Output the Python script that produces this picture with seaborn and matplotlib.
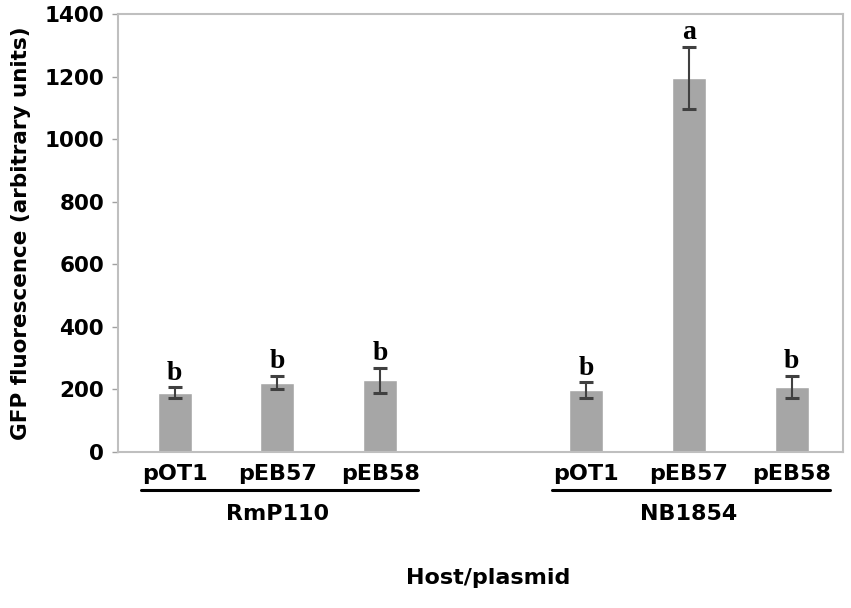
import pandas as pd
import seaborn as sns
import matplotlib.pyplot as plt
import matplotlib.transforms as mtransforms

sns.set_style("white")
plt.rcParams["text.color"] = "black"
plt.rcParams["axes.labelcolor"] = "black"
plt.rcParams["xtick.color"] = "black"
plt.rcParams["ytick.color"] = "black"

hosts = ["RmP110", "RmP110", "RmP110", "NB1854", "NB1854", "NB1854"]
plasmids = ["pOT1", "pEB57", "pEB58", "pOT1", "pEB57", "pEB58"]
fluorescence = [190, 222, 230, 198, 1195, 208]
errors = [17, 22, 40, 25, 100, 35]
letters = ["b", "b", "b", "b", "a", "b"]
y_ticks = [0, 200, 400, 600, 800, 1000, 1200, 1400]

df = pd.DataFrame({"host": hosts, "plasmid": plasmids, "gfp": fluorescence})
df["key"] = df["host"] + "|" + df["plasmid"]
order = list(df["key"][:3]) + ["gap"] + list(df["key"][3:])

fig = plt.figure(figsize=(8.51, 6.08), dpi=100)
ax = fig.add_axes([0.1387, 0.2566, 0.8519, 0.7204])

sns.barplot(data=df, x="key", y="gfp", order=order, color="#A6A6A6",
            saturation=1, width=0.33, errorbar=None, ax=ax)

pos = [order.index(k) for k in df["key"]]
ax.errorbar(pos, fluorescence, yerr=errors, fmt="none", ecolor="#404040",
            elinewidth=1.5, capsize=5, capthick=2.2)

for x, v, e, l in zip(pos, fluorescence, errors, letters):
    ax.text(x, v + e + 24, l, ha="center", va="baseline", fontsize=20,
            fontweight="bold", family="Liberation Serif")

ax.set_xlim(-0.55, 6.5)
ax.set_ylim(0, 1400)
ax.set_yticks(y_ticks)
ax.set_yticklabels([str(t) for t in y_ticks], fontsize=15.5, fontweight="bold")
ax.set_xticks(pos)
ax.set_xticklabels(plasmids, fontsize=16, fontweight="bold")
ax.tick_params(axis="x", length=0, pad=9)
ax.tick_params(axis="y", length=4, width=1, color="#A0A0A0", left=True, pad=6)

for s in ax.spines.values():
    s.set_color("#BFBFBF")
    s.set_linewidth(1.5)

# group underline + host names below the plasmid labels
trans = mtransforms.blended_transform_factory(ax.transData, ax.transAxes)
for start in [0, 3]:
    x0, x1 = pos[start] - 0.33, pos[start + 2] + 0.37
    ax.plot([x0, x1], [-0.087, -0.087], color="black", lw=2.2,
            transform=trans, clip_on=False)
    ax.text((pos[start] + pos[start + 2]) / 2, -0.142, hosts[start],
            transform=trans, ha="center", va="center", fontsize=16,
            fontweight="bold")

ax.set_xlabel("Host/plasmid", fontsize=16, fontweight="bold")
ax.xaxis.set_label_coords(0.51, -0.265)
ax.set_ylabel("GFP fluorescence (arbitrary units)", fontsize=15.5,
              fontweight="bold")
ax.yaxis.set_label_coords(-0.12, 0.50)

plt.savefig("out.png", dpi=100)
plt.close()
